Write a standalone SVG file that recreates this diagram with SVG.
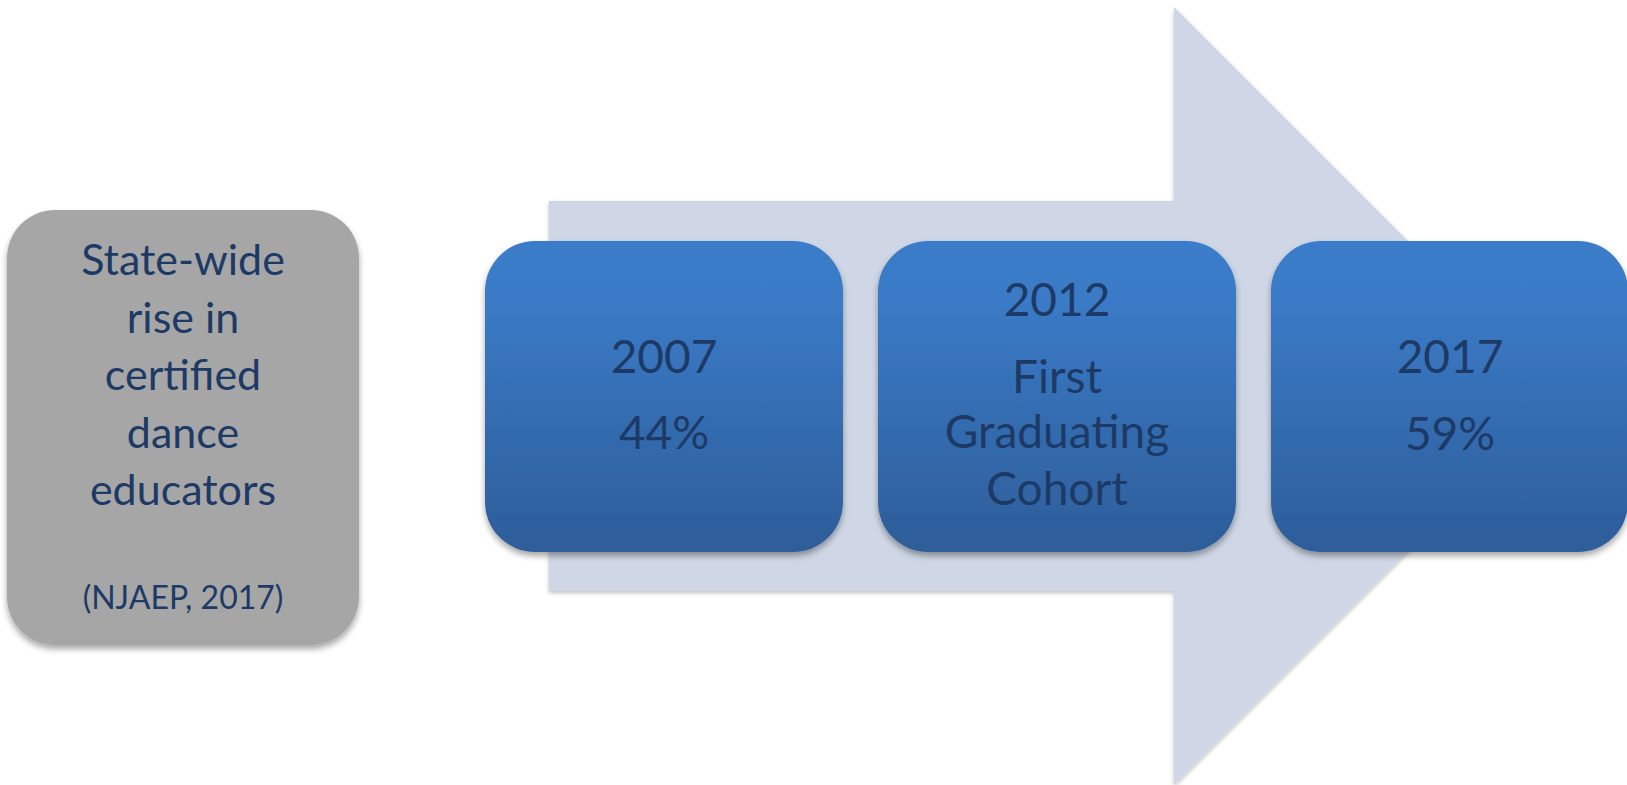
<svg xmlns="http://www.w3.org/2000/svg" width="1627" height="785" viewBox="0 0 1627 785">
  <style>
    .txt { font-family: Lato, "Open Sans", "Liberation Sans", sans-serif; fill: #1D3A66; text-anchor: middle; }
    .big { font-size: 46px; }
    .side { font-size: 43px; }
    .small { font-size: 32px; }
    .blue { fill: url(#blueGrad); filter: url(#shadow); }
    .gray { fill: #A6A6A6; filter: url(#shadow); }
    .arrow { fill: #CFD7E6; filter: url(#shadowSoft); }
  </style>
  <defs>
    <linearGradient id="blueGrad" x1="0" y1="0" x2="0" y2="1">
      <stop offset="0" stop-color="#3B7CCA"/>
      <stop offset="0.2" stop-color="#3A7AC6"/>
      <stop offset="1" stop-color="#2D5D99"/>
    </linearGradient>
    <filter id="shadow" x="-10%" y="-10%" width="120%" height="125%">
      <feDropShadow dx="0" dy="4" stdDeviation="3" flood-color="#000" flood-opacity="0.35"/>
    </filter>
    <filter id="shadowSoft" x="-10%" y="-10%" width="120%" height="120%">
      <feDropShadow dx="0" dy="2" stdDeviation="2" flood-color="#000" flood-opacity="0.25"/>
    </filter>
  </defs>

  <rect width="1627" height="785" fill="#FFFFFF"/>

  <g id="arrow-bg">
    <polygon class="arrow" points="549,201 1174,201 1174,7 1563,396 1174,785 1174,591 549,591"/>
  </g>

  <g id="connectors"></g>

  <g id="node-statewide">
    <rect class="gray" x="7" y="210" width="352" height="435" rx="48" ry="48"/>
    <text class="txt side" x="183" y="275">State-wide</text>
    <text class="txt side" x="183" y="333">rise in</text>
    <text class="txt side" x="183" y="390">certified</text>
    <text class="txt side" x="183" y="448">dance</text>
    <text class="txt side" x="183" y="505">educators</text>
    <text class="txt small" x="183" y="609">(NJAEP, 2017)</text>
  </g>

  <g id="node-2007">
    <rect class="blue" x="485" y="241" width="358" height="311" rx="50" ry="50"/>
    <text class="txt big" x="664" y="373">2007</text>
    <text class="txt big" x="664" y="449">44%</text>
  </g>

  <g id="node-2012">
    <rect class="blue" x="878" y="241" width="358" height="311" rx="50" ry="50"/>
    <text class="txt big" x="1057" y="316">2012</text>
    <text class="txt big" x="1057" y="393">First</text>
    <text class="txt big" x="1057" y="448">Graduating</text>
    <text class="txt big" x="1057" y="505">Cohort</text>
  </g>

  <g id="node-2017">
    <rect class="blue" x="1271" y="241" width="357" height="311" rx="50" ry="50"/>
    <text class="txt big" x="1450" y="373">2017</text>
    <text class="txt big" x="1450" y="450">59%</text>
  </g>
</svg>
